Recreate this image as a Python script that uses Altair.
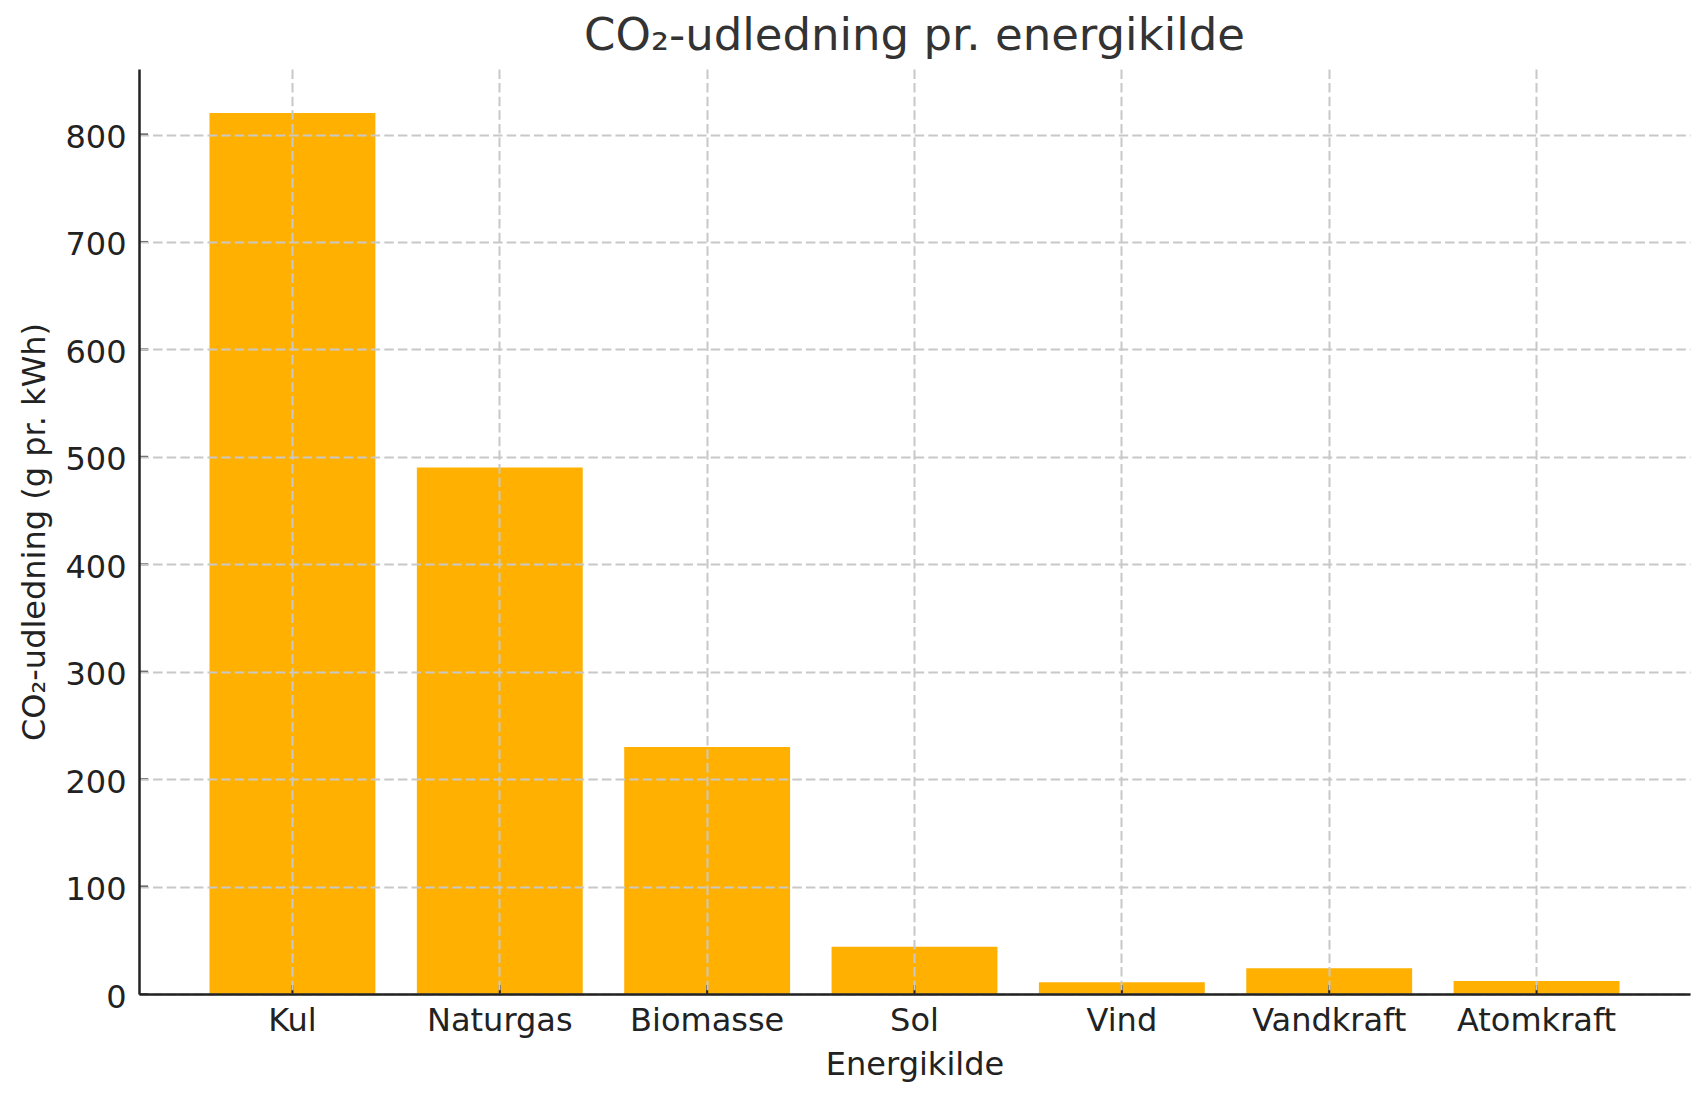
import altair as alt
import pandas as pd

# Data
categories = ["Kul", "Naturgas", "Biomasse", "Sol", "Vind", "Vandkraft", "Atomkraft"]
values = [820, 490, 230, 44, 11, 24, 12]
y_tick_values = [0, 100, 200, 300, 400, 500, 600, 700, 800]

FONT = "DejaVu Sans"
TEXT = "#222222"
W, H = 1551, 925

df = pd.DataFrame({"Energikilde": categories, "value": values})
ticks_df = pd.DataFrame({"value": y_tick_values})

x_enc = alt.X(
    "Energikilde:N",
    sort=categories,
    scale=alt.Scale(paddingInner=0.2, paddingOuter=0.34),
    axis=alt.Axis(
        title="Energikilde",
        labelAngle=0,
        ticks=False,
        tickSize=0,
        bandPosition=0.5,
        grid=True,
        gridColor="#c8c8c8",
        gridDash=[9.5, 4.1],
        gridWidth=2,
        domainColor=TEXT,
        domainWidth=2.5,
        labelFont=FONT,
        labelFontSize=32,
        labelColor=TEXT,
        labelPadding=11,
        labelBaseline="top",
        titleFont=FONT,
        titleFontSize=32,
        titleFontWeight="normal",
        titleColor=TEXT,
        titleX=W / 2,
        titleY=80,
        titleBaseline="alphabetic",
        zindex=1,
    ),
)

y_enc = alt.Y(
    "value:Q",
    scale=alt.Scale(domain=[0, 861], nice=False, zero=True),
    axis=alt.Axis(
        title="CO₂-udledning (g pr. kWh)",
        values=y_tick_values,
        format="d",
        ticks=False,
        tickSize=0,
        grid=True,
        gridColor="#c8c8c8",
        gridDash=[9.5, 4.1],
        gridWidth=2,
        domainColor=TEXT,
        domainWidth=2.5,
        labelFont=FONT,
        labelFontSize=32,
        labelColor=TEXT,
        labelPadding=13,
        labelAlign="right",
        labelBaseline="middle",
        labelOffset=3,
        titleFont=FONT,
        titleFontSize=32,
        titleFontWeight="normal",
        titleColor=TEXT,
        titleAngle=270,
        titleAlign="center",
        titleBaseline="alphabetic",
        titleX=-95,
        titleY=H / 2,
        zindex=1,
    ),
)

bars = alt.Chart(df).mark_bar(color="#FFB000").encode(x=x_enc, y=y_enc)

xticks = alt.Chart(df).mark_rule(color=TEXT, strokeWidth=2).encode(
    x=x_enc, y=alt.value(H - 9), y2=alt.value(H)
)

yticks = alt.Chart(ticks_df).mark_rule(color=TEXT, strokeWidth=2).encode(
    y=y_enc, x=alt.value(0), x2=alt.value(9)
)

chart = (
    alt.layer(bars, xticks, yticks)
    .properties(
        width=W,
        height=H,
        background="white",
        padding={"left": 131, "top": 61, "right": 5, "bottom": 95},
        autosize=alt.AutoSizeParams(type="none"),
        title=alt.TitleParams(
            "CO₂-udledning pr. energikilde",
            font=FONT,
            fontSize=45,
            fontWeight="normal",
            color="#333333",
            anchor="middle",
            frame="group",
            baseline="alphabetic",
            offset=15,
            dy=41,
        ),
    )
    .configure_view(stroke=None)
)

chart.save("out.html", embed_options={"renderer": "svg", "actions": False})
